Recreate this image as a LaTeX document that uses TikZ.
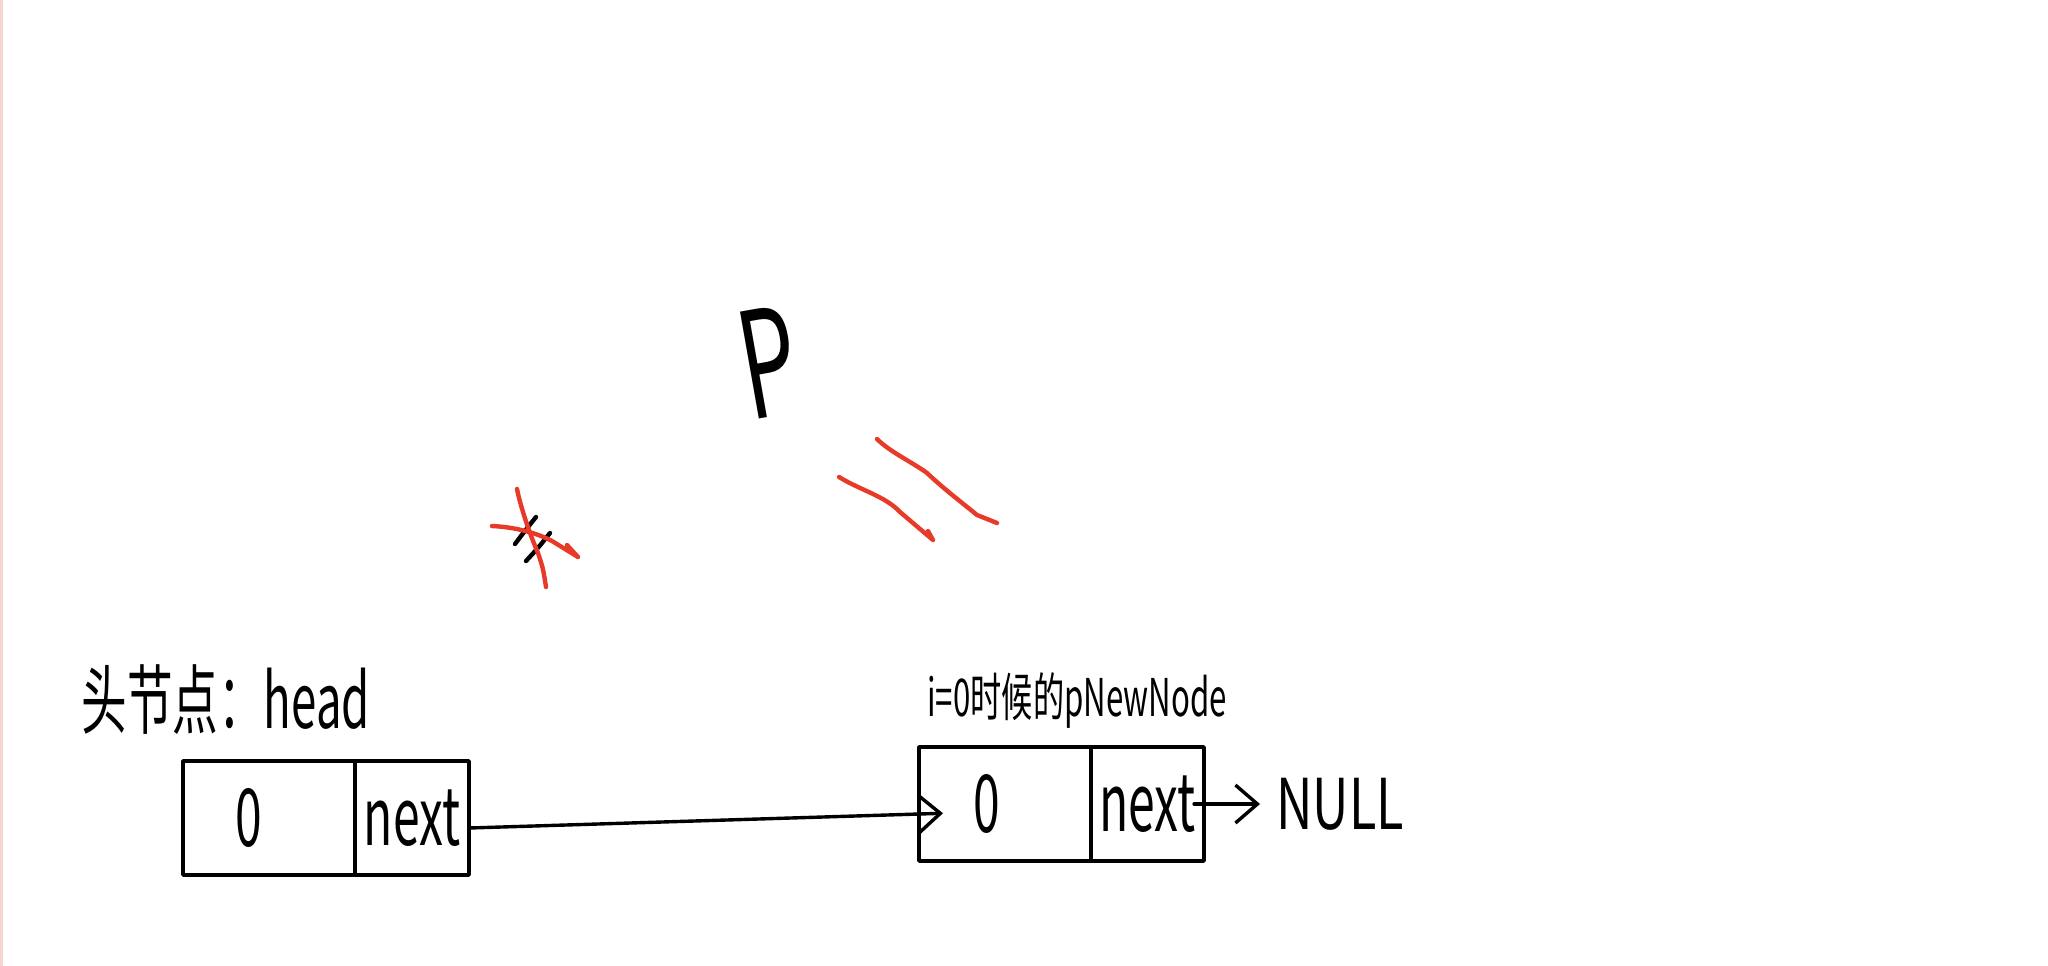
\documentclass[tikz,border=0pt]{standalone}
\usepackage{fontspec}
\newfontfamily\hand[FakeStretch=0.6]{Noto Sans CJK SC}
\newfontfamily\handwide[FakeStretch=0.72]{Noto Sans CJK SC}
\usetikzlibrary{positioning,arrows.meta}
\definecolor{inkred}{RGB}{232,58,40}
\definecolor{edgepink}{RGB}{246,214,206}

\begin{document}
\begin{tikzpicture}[x=0.5pt, y=-0.5pt, line cap=round, line join=round,
  cell/.style={draw, line width=1.8pt, minimum height=57pt, inner sep=0pt, outer sep=0pt,
    font=\hand\fontsize{40}{40}\selectfont},
  tag/.style={inner sep=0pt, font=\hand\fontsize{#1}{#1}\selectfont},
  link/.style={line width=1.7pt, -{Straight Barb[length=11pt,width=19pt,line width=1.7pt]}},
  scribble/.style={inkred, line width=2.2pt}]
  \useasboundingbox (0,0) rectangle (2048,965);
  \draw[edgepink, line width=1.5pt] (1,0) -- (1,965);

  %--- head node -----------------------------------------------------------
  \node[tag=38, anchor=west] (headlbl) at (81,700) {头节点：head};
  \node[cell, minimum width=86pt, anchor=north west] (hdata) at (183,761) {0\hspace*{20pt}};
  \node[cell, minimum width=57pt, right=0pt of hdata] (hnext) {next};

  %--- new node ------------------------------------------------------------
  \node[tag=26, anchor=west] (newlbl) at (927,700) {i=0时候的pNewNode};
  \node[cell, minimum width=86pt, anchor=north west] (ndata) at (919,747) {0\hspace*{18pt}};
  \node[cell, minimum width=56.5pt, right=0pt of ndata] (nnext) {next};
  \node[inner sep=0pt, font=\handwide\fontsize{35}{35}\selectfont,
    right=36pt of nnext] (null) {NULL};

  %--- links ---------------------------------------------------------------
  \draw[link, shorten >=-12pt] ([yshift=-5pt]hnext.east) -- ([yshift=-5pt]ndata.west);
  \draw[link, shorten <=-5pt, shorten >=8pt] (nnext.east) -- (null.west);

  %--- pointer p and red marks ----------------------------------------------
  \node[tag=74, rotate=10] (p) at (769,362) {P};

  % crossed out tip
  \draw[line width=2.2pt] (515,544) .. controls (524,532) .. (536,517);
  \draw[line width=2.2pt] (526,561) .. controls (538,548) .. (550,533);
  \draw[scribble] (492,526) .. controls (515,527) and (537,533) .. (552,541)
    -- (578,557) (567,545) -- (578,557);
  \draw[scribble] (517,489) .. controls (520,505) and (530,535) .. (538,553)
    .. controls (543,568) .. (546,587);

  % red strokes
  \draw[scribble] (839,477) .. controls (860,490) and (885,496) .. (900,512)
    -- (933,540) (928,531) -- (933,540);
  \draw[scribble] (877,439) .. controls (890,452) and (912,462) .. (927,473)
    .. controls (945,490) and (965,505) .. (977,515) -- (997,523);
\end{tikzpicture}
\end{document}
